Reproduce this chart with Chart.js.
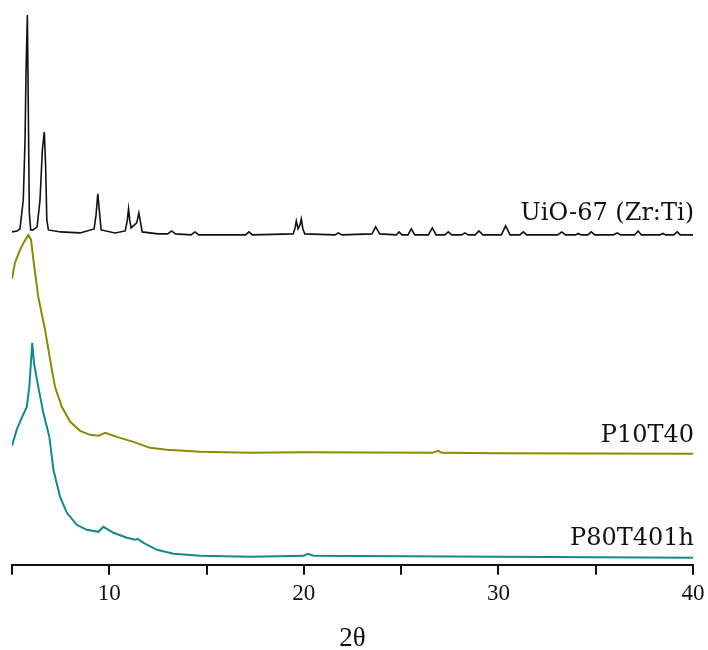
<!DOCTYPE html>
<html>
<head>
<meta charset="utf-8">
<script src="https://cdn.jsdelivr.net/npm/chart.js@4.4.1/dist/chart.umd.min.js"></script>
<style>
  body { margin: 0; background: #fff; }
  #wrap { width: 708px; height: 650px; }
</style>
</head>
<body>
<div id="wrap"><canvas id="xrd" width="708" height="650"></canvas></div>
<script>
// 2theta positions and intensities (a.u., offset added below)
const uioTheta = [5.00, 5.26, 5.41, 5.58, 5.67, 5.72, 5.79, 5.84, 5.89, 5.96, 6.08, 6.29, 6.44, 6.56, 6.66, 6.73, 6.79, 6.87, 7.5, 8.5,
  9.22, 9.32, 9.41, 9.50, 9.58, 10.3, 10.82, 10.93, 10.99, 11.05, 11.12, 11.41, 11.52, 11.61, 11.69, 12.5,
  13.0, 13.2, 13.4, 14.2, 14.4, 14.6, 17.0, 17.18, 17.35, 19.45, 19.55, 19.61, 19.70, 19.80, 19.87, 19.95, 20.05,
  21.6, 21.77, 21.95, 23.5, 23.69, 23.9, 24.75, 24.89, 25.05, 25.35, 25.52, 25.7, 26.4, 26.6, 26.8, 27.25, 27.42, 27.6,
  28.1, 28.28, 28.45, 28.8, 29.0, 29.2, 30.15, 30.37, 30.6, 31.1, 31.28, 31.45, 33.05, 33.25, 33.45, 33.95, 34.1, 34.25,
  34.6, 34.77, 34.95, 35.9, 36.1, 36.3, 37.0, 37.18, 37.35, 38.3, 38.45, 38.6, 39.0, 39.19, 39.35, 40.0];
const uioInt = [3, 4, 6, 35, 95, 162, 220, 122, 22, 5, 5, 8, 35, 85, 103, 68, 15, 5, 3, 2,
  6, 20, 41, 22, 5, 2, 4, 15, 26, 15, 7, 12, 22, 12, 3, 1,
  1, 4, 1, 0, 3, 0, 0, 3, 0, 1, 7, 14, 6, 10, 16, 6, 1,
  0, 2, 0, 1, 8, 1, 0, 3, 0, 0, 6, 0, 0, 7, 0, 0, 3, 0,
  0, 2, 0, 0, 4, 0, 0, 9, 0, 0, 3, 0, 0, 3, 0, 0, 1.5, 0,
  0, 3, 0, 0, 2, 0, 0, 4, 0, 0, 1.5, 0, 0, 3, 0, 0];

const p10Theta = [5.00, 5.15, 5.41, 5.62, 5.84, 5.98, 6.10, 6.35, 6.70, 6.96, 7.21, 7.56, 7.99, 8.50, 9.01, 9.44, 9.79, 10.39,
  11.24, 12.10, 12.96, 14.68, 17.25, 20.0, 26.6, 26.9, 27.1, 30.0, 40.0];
const p10Int = [175, 191, 204, 212, 219, 214, 194, 157, 124, 94, 67, 47, 32, 23, 19, 18, 21, 17,
  12, 6, 4, 2, 1, 1.5, 1, 3, 1, 0.5, 0];

const p80Theta = [5.00, 5.24, 5.50, 5.76, 5.89, 6.04, 6.13, 6.35, 6.61, 6.92, 7.13, 7.47, 7.82, 8.33, 8.84, 9.44, 9.70, 10.21,
  10.90, 11.33, 11.45, 11.76, 12.45, 13.30, 14.68, 17.25, 20.0, 20.2, 20.5, 30.0, 40.0];
const p80Int = [112, 128, 140, 151, 171, 215, 195, 171, 145, 121, 88, 61, 45, 33, 28, 26, 31, 25,
  20, 18, 19, 15, 8, 4, 2, 1, 2, 4, 2, 1, 0];

const seriesNames = ['UiO-67 (Zr:Ti)', 'P10T40', 'P80T401h'];
const seriesColors = ['#111111', '#8a8a00', '#138a8a'];
const seriesOffsets = [330, 111, 7];
const xTicks = [10, 20, 30, 40];

function toPoints(th, ints, off) {
  return th.map((t, i) => ({ x: t, y: ints[i] + off }));
}

const labelPlugin = {
  id: 'traceLabels',
  afterDatasetsDraw(chart) {
    const ctx = chart.ctx;
    const xs = chart.scales.x, ys = chart.scales.y;
    ctx.save();
    ctx.font = '24px "DejaVu Serif"';
    ctx.fillStyle = '#111';
    ctx.textAlign = 'right';
    ctx.textBaseline = 'alphabetic';
    chart.data.datasets.forEach(ds => {
      const last = ds.data[ds.data.length - 1];
      ctx.fillText(ds.label, xs.getPixelForValue(40) + 1, ys.getPixelForValue(last.y) - ds.labelGap);
    });
    ctx.restore();
  }
};

new Chart(document.getElementById('xrd'), {
  type: 'line',
  data: {
    datasets: [
      { label: seriesNames[0], data: toPoints(uioTheta, uioInt, seriesOffsets[0]), borderColor: seriesColors[0], borderWidth: 1.6, labelGap: 15 },
      { label: seriesNames[1], data: toPoints(p10Theta, p10Int, seriesOffsets[1]), borderColor: seriesColors[1], borderWidth: 2, labelGap: 12 },
      { label: seriesNames[2], data: toPoints(p80Theta, p80Int, seriesOffsets[2]), borderColor: seriesColors[2], borderWidth: 2, labelGap: 13 }
    ]
  },
  options: {
    responsive: false,
    animation: false,
    elements: { point: { radius: 0 }, line: { tension: 0, fill: false } },
    layout: { padding: { top: 10, left: 12, right: 15, bottom: 0 } },
    plugins: { legend: { display: false }, tooltip: { enabled: false } },
    scales: {
      x: {
        type: 'linear', min: 5, max: 40,
        border: { display: true, color: '#111', width: 2 },
        grid: { drawOnChartArea: false, drawTicks: true, tickLength: 10, color: '#111', lineWidth: 2 },
        ticks: {
          stepSize: 5, autoSkip: false, maxRotation: 0, padding: 0, color: '#111',
          font: { family: 'Liberation Serif', size: 23, lineHeight: 1.635 },
          callback: v => xTicks.includes(v) ? String(v) : ''
        },
        title: { display: true, text: '2θ', color: '#111', font: { family: 'Liberation Serif', size: 27, lineHeight: 0.8 }, padding: { top: 16, bottom: 0 } }
      },
      y: { display: false, min: 0, max: 555 }
    }
  },
  plugins: [labelPlugin]
});
</script>
</body>
</html>
